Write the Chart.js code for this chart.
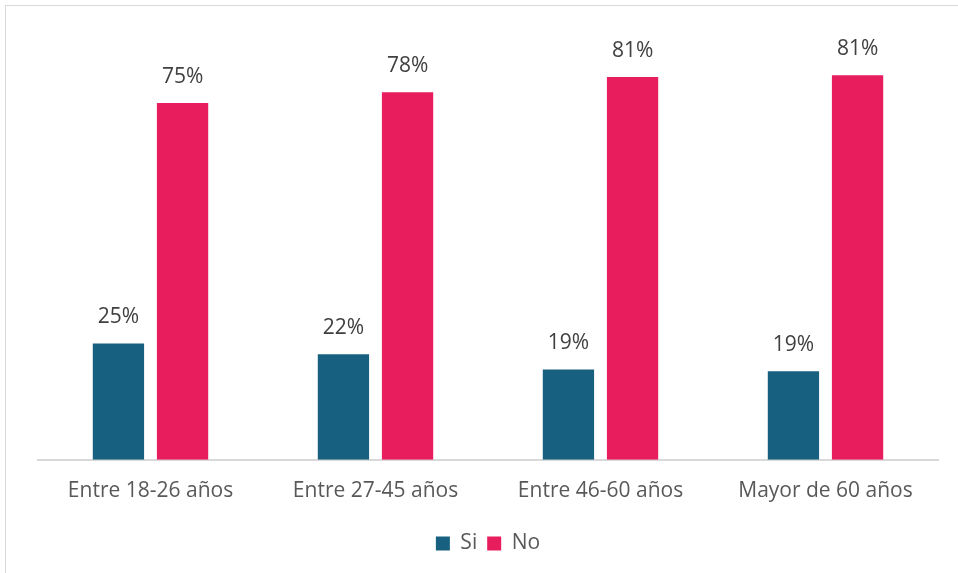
<!DOCTYPE html>
<html>
<head>
<meta charset="utf-8">
<script src="https://cdn.jsdelivr.net/npm/chart.js@4/dist/chart.umd.min.js"></script>
<style>
  html, body { margin: 0; padding: 0; background: #fff; overflow: hidden; }
  #frame { position: absolute; left: 5px; top: 5px; width: 960px; height: 575px;
           border-left: 1px solid #d9d9d9; border-top: 1px solid #d9d9d9; }
  #wrap { position: absolute; left: 0; top: 0; width: 958px; height: 573px; }
</style>
</head>
<body>
<div id="frame"></div>
<div id="wrap"><canvas id="barChart"></canvas></div>
<script>
// chart data
const categories = ['Entre 18-26 años', 'Entre 27-45 años', 'Entre 46-60 años', 'Mayor de 60 años'];
const siValues = [24.6, 22.3, 19.1, 18.7];
const noValues = [75.4, 77.7, 80.9, 81.3];

// Draws the percentage over each bar
const valueLabels = {
    id: 'valueLabels',
    afterDatasetsDraw(chart) {
        const ctx = chart.ctx;
        ctx.save();
        ctx.font = '21px "Open Sans", sans-serif';
        ctx.fillStyle = '#404040';
        ctx.textAlign = 'center';
        ctx.textBaseline = 'middle';
        chart.data.datasets.forEach((ds, i) => {
            chart.getDatasetMeta(i).data.forEach((bar, j) => {
                ctx.fillText(Math.round(ds.data[j]) + '%', bar.x, bar.y - 26);
            });
        });
        ctx.restore();
    }
};

const ctx = document.getElementById('barChart').getContext('2d');
const barChart = new Chart(ctx, {
    type: 'bar',
    data: {
        labels: categories,
        datasets: [{
            label: 'Si',
            data: siValues,
            backgroundColor: '#17607f'
        }, {
            label: 'No',
            data: noValues,
            backgroundColor: '#e71d5e'
        }]
    },
    options: {
        responsive: true,
        maintainAspectRatio: false,
        animation: false,
        categoryPercentage: 0.57,
        barPercentage: 0.8,
        layout: {
            padding: { left: 38, right: 20, top: 0, bottom: 9 }
        },
        scales: {
            x: {
                grid: { display: false, drawTicks: false },
                border: { display: true, color: '#d9d9d9', width: 2 },
                ticks: {
                    padding: 19,
                    color: '#595959',
                    font: { family: '"Open Sans", sans-serif', size: 21 }
                }
            },
            y: {
                display: false,
                min: 0,
                max: 97.2
            }
        },
        plugins: {
            legend: {
                position: 'bottom',
                labels: {
                    boxWidth: 14,
                    boxHeight: 14,
                    padding: 10,
                    color: '#595959',
                    font: { family: '"Open Sans", sans-serif', size: 21 }
                }
            },
            tooltip: { enabled: false }
        }
    },
    plugins: [valueLabels]
});
</script>
</body>
</html>
